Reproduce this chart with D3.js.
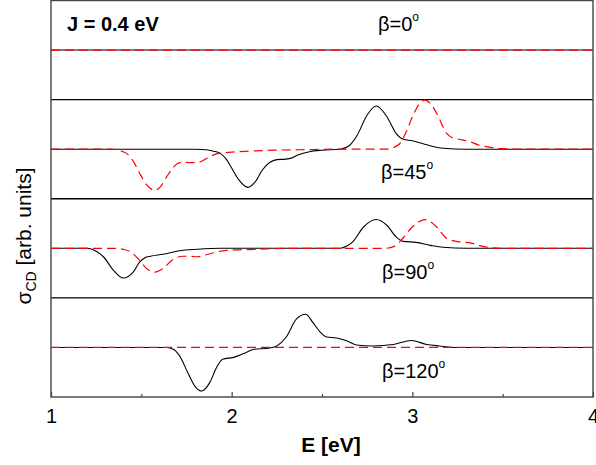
<!DOCTYPE html>
<html><head><meta charset="utf-8">
<script src="https://cdn.jsdelivr.net/npm/d3@7"></script>
<style>
body{margin:0;background:#fff;}
text{font-family:"Liberation Sans",Arial,sans-serif;}
</style></head>
<body><svg id="c" width="596" height="465"></svg>
<script>
const energyDomain = [1, 4];
const majorTicks = [1, 2, 3, 4];
const minorTicks = [1.5, 2.5, 3.5];
const panelAngles = ["0", "45", "90", "120"];
const annotation = "J = 0.4 eV";
const xTitle = "E [eV]";

const black0 = [[1,0],[4,0]];
const red0 = [[1,0],[4,0]];

const black45 = [[1,0],[1.8,0],[1.86,-0.01],[1.9,-0.04],[1.935,-0.08],[1.97,-0.2],[2.0,-0.38],[2.04,-0.62],[2.09,-0.77],[2.13,-0.66],[2.17,-0.42],[2.21,-0.27],[2.25,-0.21],[2.3,-0.2],[2.33,-0.18],[2.37,-0.11],[2.43,-0.05],[2.5,-0.02],[2.6,0.0],[2.65,0.07],[2.69,0.25],[2.75,0.69],[2.8,0.87],[2.86,0.65],[2.91,0.32],[2.95,0.2],[3.0,0.17],[3.06,0.11],[3.12,0.05],[3.17,0.02],[3.3,0],[4,0]];
const red45 = [[1,0],[1.33,0],[1.38,-0.03],[1.42,-0.09],[1.46,-0.27],[1.49,-0.48],[1.53,-0.72],[1.575,-0.83],[1.61,-0.74],[1.64,-0.56],[1.67,-0.4],[1.7,-0.29],[1.73,-0.26],[1.77,-0.27],[1.81,-0.27],[1.86,-0.19],[1.92,-0.09],[2.0,-0.06],[2.1,-0.04],[2.23,-0.02],[2.4,-0.01],[2.6,0],[2.85,0],[2.9,0.04],[2.93,0.11],[2.97,0.38],[3.0,0.65],[3.04,0.92],[3.07,0.99],[3.1,0.92],[3.135,0.72],[3.19,0.32],[3.23,0.22],[3.26,0.2],[3.32,0.15],[3.37,0.08],[3.41,0.05],[3.49,0.01],[3.6,0],[4,0]];

const black90 = [[1,0],[1.2,0],[1.25,-0.06],[1.29,-0.17],[1.345,-0.44],[1.4,-0.6],[1.455,-0.48],[1.49,-0.28],[1.52,-0.19],[1.55,-0.16],[1.62,-0.12],[1.71,-0.05],[1.81,-0.02],[1.94,0],[2.6,0],[2.64,0.05],[2.67,0.13],[2.73,0.43],[2.8,0.58],[2.86,0.46],[2.91,0.23],[2.95,0.14],[3.02,0.12],[3.1,0.06],[3.17,0.02],[3.3,0],[4,0]];
const red90 = [[1,0],[1.36,0],[1.4,-0.02],[1.44,-0.07],[1.49,-0.24],[1.53,-0.41],[1.575,-0.48],[1.62,-0.41],[1.67,-0.24],[1.73,-0.16],[1.77,-0.16],[1.81,-0.17],[1.88,-0.11],[1.97,-0.04],[2.14,-0.02],[2.3,0],[2.85,0],[2.9,0.04],[2.93,0.13],[3.0,0.43],[3.07,0.58],[3.135,0.43],[3.19,0.2],[3.26,0.13],[3.32,0.11],[3.39,0.04],[3.49,0],[4,0]];

const black120 = [[1,0],[1.64,0],[1.68,-0.04],[1.71,-0.16],[1.76,-0.53],[1.8,-0.8],[1.834,-0.88],[1.88,-0.7],[1.917,-0.4],[1.95,-0.24],[2.01,-0.2],[2.08,-0.1],[2.12,-0.04],[2.21,-0.01],[2.25,0.03],[2.3,0.2],[2.36,0.58],[2.41,0.67],[2.45,0.5],[2.49,0.31],[2.525,0.21],[2.58,0.19],[2.64,0.13],[2.69,0.05],[2.78,0.03],[2.895,0.06],[2.995,0.14],[3.08,0.06],[3.15,0.03],[3.245,0],[4,0]];
const red120 = [[1,0],[4,0]];

const panels = [
  {black: black0, red: red0, angle: panelAngles[0], lx: 378, ly: 31},
  {black: black45, red: red45, angle: panelAngles[1], lx: 381, ly: 179},
  {black: black90, red: red90, angle: panelAngles[2], lx: 382, ly: 279},
  {black: black120, red: red120, angle: panelAngles[3], lx: 382, ly: 378}
];

const svg = d3.select("#c");
const L = 51, R = 593, T = 0.5, B = 397;
const x = d3.scaleLinear().domain(energyDomain).range([L, R]);
const ph = (B - T) / panels.length;

panels.forEach((p, i) => {
  const top = T + i * ph;
  const y = d3.scaleLinear().domain([-1, 1]).range([top + ph, top]);
  const line = d3.line().x(d => x(d[0])).y(d => y(d[1])).curve(d3.curveMonotoneX);
  if (i > 0) {
    svg.append("line").attr("x1", L).attr("x2", R).attr("y1", top).attr("y2", top)
      .attr("stroke", "#000").attr("stroke-width", 1.3);
  }
  svg.append("path").datum(p.black).attr("d", line).attr("fill", "none")
    .attr("stroke", "#000").attr("stroke-width", 1.1);
  svg.append("path").datum(p.red).attr("d", line).attr("fill", "none")
    .attr("stroke", "#ff0000").attr("stroke-width", 1.2).attr("stroke-dasharray", "9,5");
  const t = svg.append("text").attr("x", p.lx).attr("y", p.ly).attr("font-size", 20).attr("fill", "#000");
  t.append("tspan").text("β=" + p.angle);
  t.append("tspan").attr("font-size", 12).attr("dy", -10).text("o");
});

// frame
svg.append("rect").attr("x", L).attr("y", T).attr("width", R - L).attr("height", B - T)
  .attr("fill", "none").attr("stroke", "#444").attr("stroke-width", 1.4);

// ticks
const xAxis = d3.axisBottom(x).tickValues(majorTicks).tickSize(-5).tickPadding(12).tickFormat(d3.format("d"));
const ag = svg.append("g").attr("transform", `translate(0,${B})`).call(xAxis);
ag.select(".domain").remove();
ag.selectAll(".tick line").attr("stroke", "#444").attr("stroke-width", 1.2);
ag.selectAll(".tick text").attr("font-size", 20).attr("font-family", "Liberation Sans, Arial, sans-serif").attr("fill", "#000");
const minorAxis = d3.axisBottom(x).tickValues(minorTicks).tickSize(-3).tickFormat("");
const mg = svg.append("g").attr("transform", `translate(0,${B})`).call(minorAxis);
mg.select(".domain").remove();
mg.selectAll(".tick line").attr("stroke", "#444").attr("stroke-width", 1.2);

svg.append("text").attr("x", 331).attr("y", 452).attr("text-anchor", "middle")
  .attr("font-size", 21).attr("font-weight", "bold").text(xTitle);

svg.append("text").attr("x", 67).attr("y", 31).attr("font-size", 20).attr("font-weight", "bold").text(annotation);

const yl = svg.append("text").attr("transform", "translate(31,236) rotate(-90)")
  .attr("text-anchor", "middle").attr("font-size", 21);
yl.append("tspan").text("σ");
yl.append("tspan").attr("font-size", 14).attr("dy", 5).text("CD");
yl.append("tspan").attr("dy", -5).text(" [arb. units]");
</script></body></html>
